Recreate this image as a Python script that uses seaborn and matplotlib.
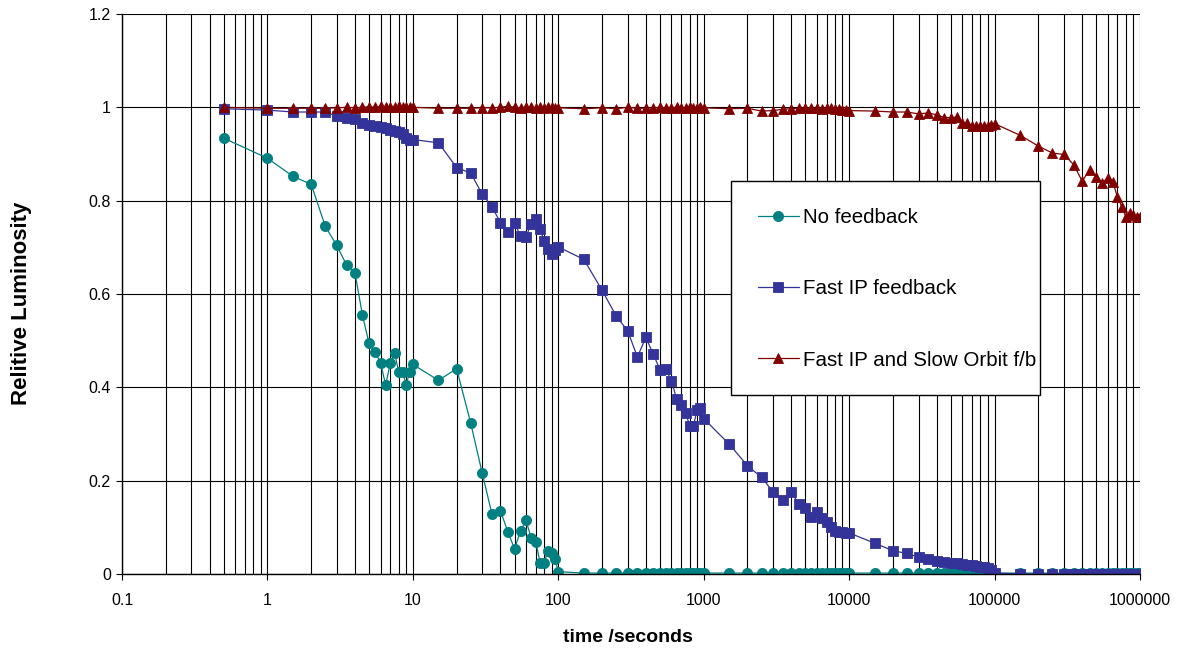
import numpy as np
import pandas as pd
import matplotlib
matplotlib.use("Agg")
import matplotlib.pyplot as plt
import seaborn as sns
from matplotlib.patches import Rectangle
from matplotlib.ticker import LogLocator, FixedLocator, FuncFormatter

# Time points (s) shared by all three series
time_s = [0.5, 1, 1.5, 2, 2.5, 3, 3.5, 4, 4.5, 5, 5.5, 6, 6.5, 7, 7.5, 8, 8.5, 9, 9.5, 10,
          15, 20, 25, 30, 35, 40, 45, 50, 55, 60, 65, 70, 75, 80, 85, 90, 95, 100,
          150, 200, 250, 300, 350, 400, 450, 500, 550, 600, 650, 700, 750, 800, 850, 900, 950, 1000,
          1500, 2000, 2500, 3000, 3500, 4000, 4500, 5000, 5500, 6000, 6500, 7000, 7500, 8000, 8500, 9000, 9500, 10000,
          15000, 20000, 25000, 30000, 35000, 40000, 45000, 50000, 55000, 60000, 65000, 70000, 75000, 80000, 85000, 90000, 95000, 100000,
          150000, 200000, 250000, 300000, 350000, 400000, 450000, 500000, 550000, 600000, 650000, 700000, 750000, 800000, 850000, 900000, 950000, 1000000]

no_feedback = [0.934, 0.891, 0.852, 0.835, 0.745, 0.704, 0.662, 0.645, 0.555, 0.494, 0.476, 0.452, 0.405, 0.452, 0.473, 0.432, 0.432, 0.406, 0.432, 0.449,
               0.415, 0.440, 0.323, 0.216, 0.128, 0.136, 0.090, 0.054, 0.092, 0.115, 0.078, 0.069, 0.024, 0.024, 0.050, 0.045, 0.033, 0.005,
               0.002, 0.002, 0.002, 0.002, 0.002, 0.002, 0.002, 0.002, 0.002, 0.002, 0.002, 0.002, 0.002, 0.002, 0.002, 0.002, 0.002, 0.002,
               0.002, 0.002, 0.002, 0.002, 0.002, 0.002, 0.002, 0.002, 0.002, 0.002, 0.002, 0.002, 0.002, 0.002, 0.002, 0.002, 0.002, 0.002,
               0.002, 0.002, 0.002, 0.002, 0.002, 0.002, 0.002, 0.002, 0.002, 0.002, 0.002, 0.002, 0.002, 0.002, 0.002, 0.002, 0.002, 0.002,
               0.002, 0.002, 0.002, 0.002, 0.002, 0.002, 0.002, 0.002, 0.002, 0.002, 0.002, 0.002, 0.002, 0.002, 0.002, 0.002, 0.002, 0.002]

fast_ip = [0.997, 0.994, 0.990, 0.990, 0.990, 0.981, 0.978, 0.974, 0.966, 0.963, 0.961, 0.958, 0.956, 0.952, 0.950, 0.947, 0.942, 0.935, 0.931, 0.931,
           0.924, 0.871, 0.859, 0.814, 0.787, 0.753, 0.733, 0.753, 0.724, 0.722, 0.751, 0.760, 0.739, 0.714, 0.696, 0.685, 0.694, 0.701,
           0.674, 0.608, 0.553, 0.521, 0.465, 0.507, 0.471, 0.438, 0.439, 0.414, 0.376, 0.362, 0.346, 0.318, 0.318, 0.351, 0.355, 0.333,
           0.278, 0.232, 0.207, 0.176, 0.158, 0.175, 0.151, 0.141, 0.123, 0.133, 0.119, 0.112, 0.101, 0.092, 0.089, 0.089, 0.087, 0.088,
           0.066, 0.050, 0.044, 0.036, 0.032, 0.027, 0.025, 0.024, 0.023, 0.022, 0.020, 0.019, 0.018, 0.016, 0.014, 0.012, 0.008, 0.002,
           0.0, 0.0, 0.0, 0.0, 0.0, 0.0, 0.0, 0.0, 0.0, 0.0, 0.0, 0.0, 0.0, 0.0, 0.0, 0.0, 0.0, 0.0]

fast_ip_slow_orbit = [1.000, 0.998, 0.998, 0.998, 0.998, 0.999, 1.000, 0.999, 1.000, 1.001, 1.000, 1.002, 1.000, 1.001, 1.000, 1.002, 1.000, 1.001, 1.000, 1.000,
                      0.998, 0.998, 0.998, 0.999, 0.999, 1.000, 1.002, 1.000, 0.999, 1.000, 1.000, 0.999, 1.000, 0.999, 1.000, 1.000, 0.999, 0.999,
                      0.997, 0.999, 0.997, 1.000, 0.998, 0.998, 0.999, 1.000, 0.999, 0.998, 1.000, 0.999, 0.999, 1.000, 0.999, 0.999, 1.000, 0.999,
                      0.997, 0.998, 0.992, 0.993, 0.996, 0.997, 0.998, 0.998, 0.998, 0.998, 0.997, 0.998, 0.998, 0.997, 0.996, 0.995, 0.994, 0.993,
                      0.992, 0.990, 0.990, 0.986, 0.988, 0.984, 0.978, 0.978, 0.979, 0.967, 0.966, 0.961, 0.961, 0.961, 0.961, 0.961, 0.963, 0.965,
                      0.940, 0.917, 0.902, 0.899, 0.877, 0.842, 0.865, 0.851, 0.838, 0.849, 0.840, 0.808, 0.787, 0.765, 0.774, 0.769, 0.764, 0.764]

series_names = ["No feedback", "Fast IP feedback", "Fast IP and Slow Orbit f/b"]
series_colors = ["#008080", "#333399", "#800000"]
series_markers = ["o", "s", "^"]

x_ticks = [0.1, 1, 10, 100, 1000, 10000, 100000, 1000000]
y_ticks = [0, 0.2, 0.4, 0.6, 0.8, 1, 1.2]

df = pd.DataFrame({
    "time": time_s * 3,
    "lum": no_feedback + fast_ip + fast_ip_slow_orbit,
    "series": [series_names[0]] * len(time_s) + [series_names[1]] * len(time_s) + [series_names[2]] * len(time_s),
})

sns.set_style("white")
plt.rcParams["font.family"] = ["Liberation Sans", "DejaVu Sans"]
plt.rcParams["text.color"] = "black"
plt.rcParams["axes.labelcolor"] = "black"

fig = plt.figure(figsize=(11.99, 6.53), dpi=100)
ax = fig.add_axes([122 / 1199, 1 - 574 / 653, 1018 / 1199, 560 / 653])

# grid under the data
ax.set_xscale("log")
ax.set_xlim(0.1, 1000000)
ax.set_ylim(0, 1.2)
ax.xaxis.set_major_locator(FixedLocator(x_ticks))
ax.xaxis.set_minor_locator(LogLocator(base=10, subs=np.arange(2, 10), numticks=20))
ax.yaxis.set_major_locator(FixedLocator(y_ticks))
ax.xaxis.set_major_formatter(FuncFormatter(lambda v, p: f"{v:g}" if v < 1 else f"{int(v)}"))
ax.yaxis.set_major_formatter(FuncFormatter(lambda v, p: f"{v:g}"))
ax.grid(which="major", color="black", linewidth=0.8)
ax.grid(which="minor", axis="x", color="black", linewidth=0.8)
ax.set_axisbelow(True)

for name, col, mk in zip(series_names, series_colors, series_markers):
    sub = df[df["series"] == name]
    sns.lineplot(data=sub, x="time", y="lum", ax=ax, color=col, marker=mk,
                 markersize=7.3, markeredgecolor=col, markeredgewidth=0.6,
                 linewidth=0.9, estimator=None, sort=False, label=name)

for s in ["top", "right"]:
    ax.spines[s].set_visible(False)
for s in ["left", "bottom"]:
    ax.spines[s].set_color("black")
    ax.spines[s].set_linewidth(1.0)

ax.tick_params(axis="x", which="major", direction="out", length=4, width=0.8, pad=10,
               labelsize=11.5, colors="black", bottom=True)
ax.tick_params(axis="x", which="minor", length=0)
ax.tick_params(axis="y", direction="out", length=4, width=0.8, pad=4,
               labelsize=11.5, colors="black", left=True)

ax.set_xlabel("time /seconds", fontsize=14, fontweight="bold")
ax.set_ylabel("Relitive Luminosity", fontsize=16, fontweight="bold")
ax.xaxis.set_label_coords(0.497, -0.098)
ax.yaxis.set_label_coords(-0.088, 0.484)

# legend box drawn as a plain rectangle, entries placed inside it
box_l, box_t, box_r, box_b = 731 / 1199, 1 - 181 / 653, 1040 / 1199, 1 - 395 / 653
fig.patches.append(Rectangle((box_l, box_b), box_r - box_l, box_t - box_b,
                             transform=fig.transFigure, facecolor="white",
                             edgecolor="black", linewidth=1.0, zorder=5))
leg = ax.legend(loc="upper left", bbox_to_anchor=(box_l, box_t),
                bbox_transform=fig.transFigure, frameon=False,
                fontsize=14.8, labelspacing=2.55, borderpad=1.3,
                handlelength=2.0, handletextpad=0.2, borderaxespad=0)
for t in leg.get_texts():
    t.set_color("black")
leg.set_zorder(10)
leg.remove()
fig.legends.append(leg)
leg.set_figure(fig)

fig.savefig("out.png", dpi=100)
